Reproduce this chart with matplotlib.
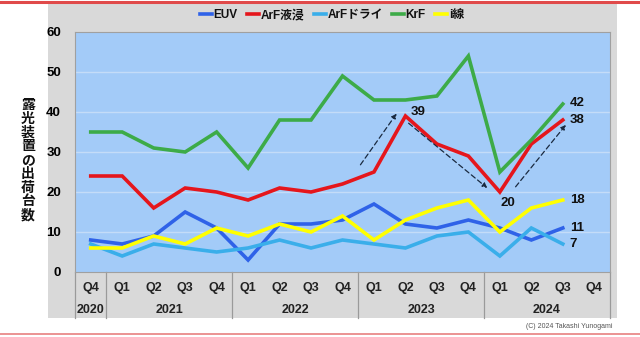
import matplotlib
matplotlib.use("Agg")
import matplotlib.pyplot as plt
from matplotlib.patches import Rectangle
from matplotlib.lines import Line2D
import matplotlib.transforms as mtransforms
from matplotlib import font_manager

names = {f.name for f in font_manager.fontManager.ttflist}
latin = "Liberation Sans Narrow" if "Liberation Sans Narrow" in names else "Liberation Sans"
plt.rcParams['font.family'] = [latin, 'Noto Sans CJK JP', 'DejaVu Sans']

quarters = ["Q4", "Q1", "Q2", "Q3", "Q4", "Q1", "Q2", "Q3", "Q4",
            "Q1", "Q2", "Q3", "Q4", "Q1", "Q2", "Q3", "Q4"]
years = ["2020", "2021", "2022", "2023", "2024"]
year_spans = [(0, 0), (1, 4), (5, 8), (9, 12), (13, 16)]

euv =     [8, 7, 9, 15, 11, 3, 12, 12, 13, 17, 12, 11, 13, 11, 8, 11]
arf_imm = [24, 24, 16, 21, 20, 18, 21, 20, 22, 25, 39, 32, 29, 20, 32, 38]
arf_dry = [7, 4, 7, 6, 5, 6, 8, 6, 8, 7, 6, 9, 10, 4, 11, 7]
krf =     [35, 35, 31, 30, 35, 26, 38, 38, 49, 43, 43, 44, 54, 25, 33, 42]
iline =   [6, 6, 9, 7, 11, 9, 12, 10, 14, 8, 13, 16, 18, 10, 16, 18]

series_names = ["EUV", "ArF液浸", "ArFドライ", "KrF", "i線"]
series_values = [euv, arf_imm, arf_dry, krf, iline]
series_colors = ["#2f62e8", "#e5161c", "#3aaeea", "#3dab48", "#ffff00"]

W, H = 640, 337
fig = plt.figure(figsize=(W / 100, H / 100), dpi=100)

# red frame lines
fig.add_artist(Line2D([0, 1], [1 - 1.5 / H, 1 - 1.5 / H], color="#e04a4a", lw=2.2))
fig.add_artist(Line2D([0, 1], [1 - 334 / H, 1 - 334 / H], color="#e88080", lw=1.2))

# gray chart area
fig.add_artist(Rectangle((48 / W, 1 - 318 / H), (617 - 48) / W, (318 - 4) / H,
                         transform=fig.transFigure, facecolor="#d9d9d9",
                         edgecolor="none", zorder=0))

ax = fig.add_axes([75 / W, 1 - 272 / H, 535 / W, 240 / H])
ax.set_facecolor("#a3cbf8")
ax.set_xlim(-0.5, 16.5)
ax.set_ylim(0, 60)
ax.set_yticks(range(0, 61, 10))
ax.set_yticklabels([str(v) for v in range(0, 61, 10)], fontsize=9.5, fontweight="bold")
ax.tick_params(axis="y", length=0, pad=10)
ax.set_xticks([])
for y in range(10, 60, 10):
    ax.axhline(y, color="#c4dcf8", lw=1.0, zorder=1)
for s in ax.spines.values():
    s.set_color("#a0a0a0")
    s.set_linewidth(0.8)

n = len(euv)
xs = list(range(n))
for name, vals, col in zip(series_names, series_values, series_colors):
    ax.plot(xs, vals, color=col, lw=2.6, label=name, zorder=3, solid_joinstyle="miter")

# category labels
trans = mtransforms.blended_transform_factory(ax.transData, ax.transAxes)
for i, q in enumerate(quarters):
    ax.text(i, -16 / 240, q, transform=trans, ha="center", va="center",
            fontsize=9, fontweight="bold", color="#222222")
for yr, (a, b) in zip(years, year_spans):
    ax.text((a + b) / 2, -38 / 240, yr, transform=trans, ha="center", va="center",
            fontsize=9, fontweight="bold", color="#222222")
for xb in [-0.5, 0.5, 4.5, 8.5, 12.5, 16.5]:
    ax.add_line(Line2D([xb, xb], [0, -46 / 240], transform=trans, color="#9a9a9a",
                       lw=0.9, clip_on=False))

# end labels
last = n - 1
for vals, dy in zip([krf, arf_imm, iline, euv, arf_dry], [1, 0, 0, 0, 0]):
    ax.annotate(str(vals[last]), (last, vals[last]), xytext=(5, dy), textcoords="offset points",
                ha="left", va="center", fontsize=9.5, fontweight="bold", color="#111111")
ax.annotate(str(arf_imm[10]), (10, arf_imm[10]), xytext=(4, 3), textcoords="offset points",
            ha="left", va="center", fontsize=9.5, fontweight="bold", color="#111111")
ax.annotate(str(arf_imm[13]), (13, arf_imm[13]), xytext=(6, -8), textcoords="offset points",
            ha="center", va="center", fontsize=9.5, fontweight="bold", color="#111111")

# dashed arrows
arrows = [((8.57, 26.8), (9.72, 39.6)),
          ((10.1, 37.2), (12.6, 21.0)),
          ((13.5, 21.3), (15.1, 36.8))]
for (x0, y0), (x1, y1) in arrows:
    ax.annotate("", xy=(x1, y1), xytext=(x0, y0),
                arrowprops=dict(arrowstyle="-|>", linestyle=(0, (4, 2.5)), color="#1a2a40",
                                lw=0.9, mutation_scale=7, shrinkA=0, shrinkB=0),
                zorder=4)

# legend
leg = fig.legend(loc="center", bbox_to_anchor=(332 / W, 1 - 15 / H), ncol=5, frameon=False,
                 handlelength=1.0, handletextpad=0.15, columnspacing=0.8,
                 prop={"weight": "bold", "size": 8.5})
for t in leg.get_texts():
    t.set_color("#111111")

# y label (stacked vertical)
ylab = "露光装置の出荷台数"
fig.text(28 / W, 1 - 160 / H, "\n".join(ylab), ha="center", va="center",
         fontsize=10, fontweight="bold", linespacing=0.98, color="#111111",
         family=["Noto Sans CJK JP"])

# copyright
fig.text(612 / W, 1 - 326 / H, "(C) 2024 Takashi Yunogami", ha="right", va="center",
         fontsize=5, color="#555555")

fig.savefig("out.png", dpi=100)
